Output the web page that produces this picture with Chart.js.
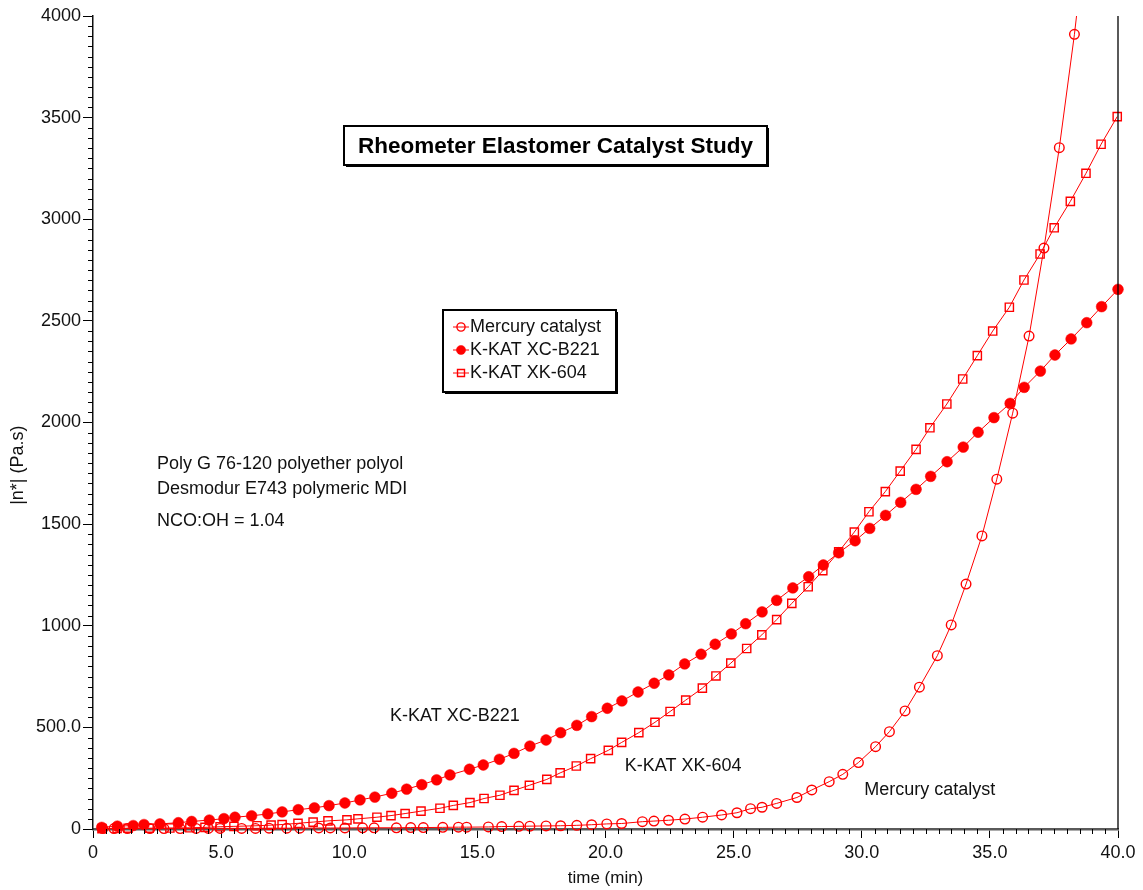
<!DOCTYPE html>
<html>
<head>
<meta charset="utf-8">
<script src="https://cdn.jsdelivr.net/npm/chart.js@4/dist/chart.umd.min.js"></script>
<style>
html,body{margin:0;padding:0;background:#fff;}
#c{display:block;}
</style>
</head>
<body>
<canvas id="c" width="1143" height="890"></canvas>
<script>
// ---------- data ----------
const seriesNames = ['Mercury catalyst', 'K-KAT XC-B221', 'K-KAT XK-604'];

const mercuryX = [0.38,0.82,1.34,2.22,2.77,3.40,4.02,4.50,4.96,5.80,6.34,6.87,7.56,8.07,8.81,9.26,9.83,10.52,10.97,11.84,12.40,12.89,13.65,14.26,14.58,15.43,15.95,16.62,17.05,17.68,18.25,18.88,19.46,20.05,20.63,21.44,21.89,22.46,23.10,23.79,24.53,25.13,25.66,26.11,26.68,27.47,28.05,28.73,29.26,29.87,30.54,31.08,31.69,32.25,32.95,33.49,34.07,34.69,35.27,35.89,36.53,37.11,37.71,38.30,38.89];
const mercuryY = [2,2,2,2,2,2,3,3,3,3,3,4,4,4,5,5,5,6,6,6,7,7,8,9,9,10,12,13,14,15,16,18,21,25,27,36,39,43,49,58,69,80,100,107,126,155,192,233,269,327,405,479,581,698,853,1004,1205,1442,1721,2046,2425,2858,3352,3910,4560];

const xcb221X = [0.34,0.95,1.57,1.99,2.61,3.33,3.85,4.54,5.11,5.54,6.19,6.82,7.38,8.01,8.64,9.21,9.83,10.42,11.00,11.66,12.24,12.83,13.41,13.93,14.69,15.23,15.86,16.43,17.05,17.68,18.25,18.88,19.46,20.07,20.64,21.27,21.90,22.47,23.09,23.73,24.28,24.91,25.47,26.11,26.68,27.31,27.93,28.50,29.10,29.74,30.31,30.93,31.52,32.12,32.69,33.33,33.96,34.54,35.16,35.79,36.34,36.97,37.54,38.17,38.78,39.36,40.00];
const xcb221Y = [8,14,17,22,25,31,37,44,51,58,65,74,84,95,104,115,128,143,157,176,196,218,242,266,294,315,343,372,408,438,474,510,553,594,630,674,717,758,812,860,909,960,1010,1068,1125,1186,1241,1299,1359,1418,1479,1543,1607,1671,1735,1807,1879,1952,2024,2094,2173,2253,2332,2411,2491,2570,2655];

const xk604X = [0.35,0.94,1.37,2.19,3.00,3.78,4.37,4.96,5.50,6.40,6.95,7.38,8.00,8.59,9.17,9.91,10.34,11.08,11.63,12.18,12.80,13.54,14.06,14.71,15.26,15.88,16.43,17.03,17.71,18.23,18.86,19.42,20.11,20.63,21.30,21.93,22.52,23.13,23.78,24.31,24.89,25.51,26.10,26.68,27.27,27.91,28.48,29.10,29.71,30.28,30.92,31.50,32.12,32.66,33.32,33.94,34.51,35.11,35.76,36.33,36.96,37.51,38.14,38.75,39.34,39.97];
const xk604Y = [2,3,4,4,5,6,8,11,13,16,19,22,28,34,40,45,50,58,66,76,88,102,116,130,150,166,190,215,244,276,310,346,387,426,474,525,578,634,693,753,816,888,955,1030,1110,1192,1271,1364,1461,1561,1660,1761,1868,1974,2091,2214,2329,2450,2567,2701,2829,2958,3088,3226,3369,3505];

const xTickLabels = ['0','5.0','10.0','15.0','20.0','25.0','30.0','35.0','40.0'];
const yTickLabels = ['0','500.0','1000','1500','2000','2500','3000','3500','4000'];

const chartTitle = 'Rheometer Elastomer Catalyst Study';
const xTitle = 'time (min)';
const yTitle = '|n*| (Pa.s)';
const noteLines = ['Poly G 76-120 polyether polyol', 'Desmodur E743 polymeric MDI', 'NCO:OH = 1.04'];

// ---------- styling ----------
const FONT = "'Liberation Sans', Arial, Helvetica, sans-serif";
const RED = '#ff0000';
const INK = '#111111';
Chart.defaults.font.family = FONT;

function pts(xs, ys) { return xs.map((x, i) => ({x: x, y: ys[i]})); }

const baseDs = {
  borderColor: RED, borderWidth: 1, tension: 0, fill: false,
  pointBorderColor: RED, clip: {left: 10, right: 10, bottom: 10, top: 0}
};

const datasets = [
  Object.assign({}, baseDs, {label: seriesNames[0], data: pts(mercuryX, mercuryY),
    pointStyle: 'circle', pointRadius: 4.8, pointBorderWidth: 1.4, pointBackgroundColor: 'rgba(0,0,0,0)'}),
  Object.assign({}, baseDs, {label: seriesNames[1], data: pts(xcb221X, xcb221Y),
    pointStyle: 'circle', pointRadius: 5.4, pointBorderWidth: 0.5, pointBackgroundColor: RED}),
  Object.assign({}, baseDs, {label: seriesNames[2], data: pts(xk604X, xk604Y),
    pointStyle: 'rect', pointRadius: 5.8, pointBorderWidth: 1.4, pointBackgroundColor: 'rgba(0,0,0,0)'})
];

const decor = {
  id: 'decor',
  afterDraw(chart) {
    const ctx = chart.ctx;
    const xs = chart.scales.x, ys = chart.scales.y;
    const a = chart.chartArea;
    ctx.save();
    // minor ticks
    ctx.strokeStyle = '#000';
    ctx.lineWidth = 1;
    ctx.beginPath();
    for (let v = 50; v < 4000; v += 50) {
      if (v % 500 === 0) continue;
      const py = Math.round(ys.getPixelForValue(v)) + 0.5;
      ctx.moveTo(a.left - 5, py); ctx.lineTo(a.left, py);
    }
    for (let k = 1; k < 80; k++) {
      if (k % 10 === 0) continue;
      const px = Math.round(xs.getPixelForValue(k * 0.5)) + 0.5;
      ctx.moveTo(px, a.bottom); ctx.lineTo(px, a.bottom + 5);
    }
    ctx.stroke();
    // right frame line
    ctx.lineWidth = 1.3;
    ctx.beginPath();
    ctx.moveTo(a.right, a.top); ctx.lineTo(a.right, a.bottom);
    ctx.stroke();

    // y title
    ctx.fillStyle = INK;
    ctx.font = '18px ' + FONT;
    ctx.textAlign = 'center';
    ctx.textBaseline = 'middle';
    ctx.save();
    ctx.translate(18, ys.getPixelForValue(1790));
    ctx.rotate(-Math.PI / 2);
    ctx.fillText(yTitle, 0, 0);
    ctx.restore();

    // boxes
    function box(x, y, w, h) {
      ctx.fillStyle = '#fff';
      ctx.fillRect(x, y, w, h);
      ctx.strokeStyle = '#000';
      ctx.lineWidth = 2;
      ctx.strokeRect(x, y, w, h);
      ctx.fillStyle = '#000';
      ctx.fillRect(x + w + 1, y + 2, 1, h);
      ctx.fillRect(x + 2, y + h + 1, w, 1);
    }
    // title box
    box(344, 126, 423, 39);
    ctx.fillStyle = '#000';
    ctx.font = 'bold 22.5px ' + FONT;
    ctx.textAlign = 'center';
    ctx.textBaseline = 'middle';
    ctx.fillText(chartTitle, 344 + 423 / 2, 147);

    // legend box
    box(443, 310, 173, 82);
    const rows = [327, 350, 373];
    chart.data.datasets.forEach((ds, i) => {
      const y = rows[i];
      ctx.strokeStyle = RED; ctx.lineWidth = 1;
      ctx.beginPath(); ctx.moveTo(453, y); ctx.lineTo(469, y); ctx.stroke();
      ctx.strokeStyle = ds.pointBorderColor;
      ctx.fillStyle = ds.pointBackgroundColor;
      ctx.lineWidth = ds.pointBorderWidth;
      Chart.helpers.drawPoint(ctx, {pointStyle: ds.pointStyle, rotation: 0,
        radius: ds.pointRadius * 0.85, borderWidth: ds.pointBorderWidth}, 461, y);
      ctx.fillStyle = INK;
      ctx.font = '18px ' + FONT;
      ctx.textAlign = 'left';
      ctx.textBaseline = 'middle';
      ctx.fillText(ds.label, 470, y);
    });

    // annotations (anchored in data coordinates)
    ctx.fillStyle = INK;
    ctx.font = '18px ' + FONT;
    ctx.textAlign = 'left';
    ctx.textBaseline = 'middle';
    const notes = [
      [noteLines[0], 2.5, 1795], [noteLines[1], 2.5, 1672], [noteLines[2], 2.5, 1515],
      [seriesNames[1], 11.59, 556], [seriesNames[2], 20.75, 310], [seriesNames[0], 30.1, 192]
    ];
    notes.forEach(n => ctx.fillText(n[0], xs.getPixelForValue(n[1]), ys.getPixelForValue(n[2])));
    ctx.restore();
  }
};

new Chart(document.getElementById('c'), {
  type: 'line',
  data: {datasets: datasets},
  options: {
    responsive: false,
    animation: false,
    events: [],
    layout: {padding: {left: 0, top: 16, right: 25, bottom: 0}},
    plugins: {legend: {display: false}, tooltip: {enabled: false}, title: {display: false}},
    scales: {
      x: {
        type: 'linear', min: 0, max: 40,
        ticks: {stepSize: 5, autoSkip: false, maxRotation: 0, padding: 4, color: INK,
          font: {size: 18}, callback: (v) => xTickLabels[Math.round(v / 5)]},
        grid: {drawOnChartArea: false, tickLength: 9, tickColor: '#000', tickWidth: 1},
        border: {color: '#5a5a5a', width: 2.5},
        title: {display: true, text: xTitle, color: INK, font: {size: 17}, padding: {top: 0, bottom: 1}},
        afterFit(s) { s.height = 61; }
      },
      y: {
        type: 'linear', min: 0, max: 4000,
        ticks: {stepSize: 500, autoSkip: false, padding: 2, color: INK,
          font: {size: 18}, callback: (v) => yTickLabels[Math.round(v / 500)]},
        grid: {drawOnChartArea: false, tickLength: 10, tickColor: '#000', tickWidth: 1},
        border: {color: '#111', width: 1.5},
        afterFit(s) { s.width = 93; }
      }
    }
  },
  plugins: [decor]
});
</script>
</body>
</html>
